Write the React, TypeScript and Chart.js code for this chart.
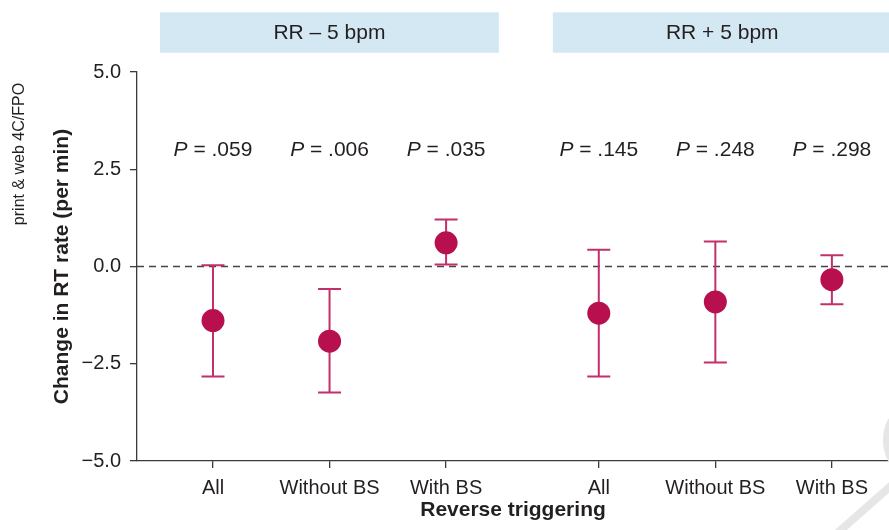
import { useEffect, useRef } from "react";
import { Chart, registerables } from "chart.js";

Chart.register(...registerables);

// ---- data ----
const categoryLabels = ["All", "Without BS", "With BS", "All", "Without BS", "With BS"];
const categoryPositions = [1, 2, 3, 4.31, 5.31, 6.31];
const meanChange = [-1.39, -1.92, 0.61, -1.2, -0.91, -0.34];
const ciUpper = [0.03, -0.58, 1.21, 0.43, 0.64, 0.29];
const ciLower = [-2.83, -3.24, 0.05, -2.83, -2.47, -0.97];
const pValues = [".059", ".006", ".035", ".145", ".248", ".298"];
const groupLabels = ["RR \u2013 5 bpm", "RR + 5 bpm"];
const groupSpans = [
  [0.545, 3.453],
  [3.916, 6.823],
];
const yTickValues = [-5, -2.5, 0, 2.5, 5];

const FONT = "'Liberation Sans', Arial, Helvetica, sans-serif";
const TEXT = "#231f20";
const AXIS = "#3a3a3a";
const DOT = "#b80f4f";
const BAR = "#c2306b";

const errorBarPlugin = {
  id: "errorBars",
  beforeDatasetsDraw(chart: any) {
    const { ctx, chartArea } = chart;
    const xs = chart.scales.x;
    const ys = chart.scales.y;
    ctx.save();
    // zero reference line
    ctx.strokeStyle = "#444";
    ctx.lineWidth = 1.5;
    ctx.setLineDash([7, 5]);
    const y0 = ys.getPixelForValue(0);
    ctx.beginPath();
    ctx.moveTo(chartArea.left, y0);
    ctx.lineTo(chartArea.right, y0);
    ctx.stroke();
    ctx.setLineDash([]);
    // error bars
    ctx.strokeStyle = BAR;
    ctx.lineWidth = 2;
    const cap = 11.5;
    categoryPositions.forEach((p, i) => {
      const px = xs.getPixelForValue(p);
      const yu = ys.getPixelForValue(ciUpper[i]);
      const yl = ys.getPixelForValue(ciLower[i]);
      ctx.beginPath();
      ctx.moveTo(px, yu);
      ctx.lineTo(px, yl);
      ctx.moveTo(px - cap, yu);
      ctx.lineTo(px + cap, yu);
      ctx.moveTo(px - cap, yl);
      ctx.lineTo(px + cap, yl);
      ctx.stroke();
    });
    ctx.restore();
  },
};

const annotationPlugin = {
  id: "annotations",
  afterDraw(chart: any) {
    const { ctx } = chart;
    const xs = chart.scales.x;
    const ys = chart.scales.y;
    ctx.save();
    // group header boxes
    groupSpans.forEach((span, i) => {
      const x1 = xs.getPixelForValue(span[0]);
      const x2 = xs.getPixelForValue(span[1]);
      const yTop = ys.getPixelForValue(6.535);
      const yBot = ys.getPixelForValue(5.496);
      ctx.fillStyle = "#d4e8f3";
      ctx.fillRect(x1, yTop, x2 - x1, yBot - yTop);
      ctx.fillStyle = TEXT;
      ctx.font = `21px ${FONT}`;
      ctx.textAlign = "center";
      ctx.textBaseline = "middle";
      ctx.fillText(groupLabels[i], (x1 + x2) / 2, (yTop + yBot) / 2 + 1);
    });
    // P values
    categoryPositions.forEach((p, i) => {
      const cx = xs.getPixelForValue(p);
      const cy = ys.getPixelForValue(3.0);
      ctx.textBaseline = "middle";
      ctx.textAlign = "left";
      ctx.font = `italic 21px ${FONT}`;
      const wP = ctx.measureText("P").width;
      ctx.font = `21px ${FONT}`;
      const rest = " = " + pValues[i];
      const wR = ctx.measureText(rest).width;
      const start = cx - (wP + wR) / 2;
      ctx.fillStyle = TEXT;
      ctx.font = `italic 21px ${FONT}`;
      ctx.fillText("P", start, cy);
      ctx.font = `21px ${FONT}`;
      ctx.fillText(rest, start + wP, cy);
    });
    // side note
    ctx.save();
    ctx.translate(20, 154);
    ctx.rotate(-Math.PI / 2);
    ctx.font = `16px ${FONT}`;
    ctx.textAlign = "center";
    ctx.textBaseline = "middle";
    ctx.fillStyle = TEXT;
    ctx.fillText("print & web 4C/FPO", 0, 0);
    ctx.restore();
    // faint watermark stroke (bottom-right corner)
    ctx.strokeStyle = "#e6e6e6";
    ctx.lineWidth = 8;
    ctx.beginPath();
    ctx.moveTo(893, 484);
    ctx.lineTo(834, 536);
    ctx.stroke();
    ctx.beginPath();
    ctx.arc(930, 440, 43, Math.PI * 0.82, Math.PI * 1.15);
    ctx.stroke();
    ctx.restore();
  },
};

export default function App() {
  const ref = useRef<HTMLCanvasElement | null>(null);
  useEffect(() => {
    if (!ref.current) return;
    const chart = new Chart(ref.current, {
      type: "scatter",
      data: {
        datasets: [
          {
            label: "Change in RT rate",
            data: categoryPositions.map((p, i) => ({ x: p, y: meanChange[i] })),
            backgroundColor: DOT,
            borderWidth: 0,
            pointRadius: 11.5,
            pointHoverRadius: 11.5,
          },
        ],
      },
      options: {
        responsive: false,
        animation: false,
        layout: { autoPadding: false, padding: { top: 72, left: 0, right: 0, bottom: 0 } },
        plugins: {
          legend: { display: false },
          tooltip: { enabled: false },
        },
        scales: {
          x: {
            type: "linear",
            min: 0.348,
            max: 6.8,
            afterBuildTicks: (scale: any) => {
              scale.ticks = categoryPositions.map((v) => ({ value: v }));
            },
            afterFit: (scale: any) => {
              scale.height = 69;
              scale.paddingLeft = 0;
              scale.paddingRight = 0;
            },
            ticks: {
              autoSkip: false,
              maxRotation: 0,
              padding: 8,
              color: TEXT,
              font: { size: 20, family: FONT },
              callback: (_v: any, idx: number) => categoryLabels[idx],
            },
            grid: {
              display: true,
              drawOnChartArea: false,
              drawTicks: true,
              tickLength: 7,
              color: AXIS,
              lineWidth: 1.3,
            },
            border: { display: true, color: AXIS, width: 1.3 },
            title: {
              display: true,
              text: "Reverse triggering",
              color: TEXT,
              font: { size: 21, weight: "bold", family: FONT },
              padding: { top: 0, bottom: 7 },
            },
          },
          y: {
            type: "linear",
            min: -5,
            max: 5,
            afterBuildTicks: (scale: any) => {
              scale.ticks = yTickValues.map((v) => ({ value: v }));
            },
            afterFit: (scale: any) => {
              scale.width = 137;
              scale.paddingTop = 0;
              scale.paddingBottom = 0;
            },
            ticks: {
              padding: 9,
              color: TEXT,
              font: { size: 20, family: FONT },
              callback: (v: any) => {
                const n = Number(v);
                return (n < 0 ? "\u2212" : "") + Math.abs(n).toFixed(1);
              },
            },
            grid: {
              display: true,
              drawOnChartArea: false,
              drawTicks: true,
              tickLength: 7,
              color: AXIS,
              lineWidth: 1.3,
            },
            border: { display: true, color: AXIS, width: 1.3 },
            title: {
              display: true,
              text: "Change in RT rate (per min)",
              color: TEXT,
              font: { size: 21, weight: "bold", family: FONT },
              padding: { top: 49.4, bottom: 0 },
            },
          },
        },
      },
      plugins: [errorBarPlugin, annotationPlugin],
    } as any);
    return () => chart.destroy();
  }, []);
  return (
    <div style={{ position: "absolute", left: 0, top: 0, width: 889, height: 530, background: "#fff" }}>
      <canvas ref={ref} width={889} height={530} style={{ display: "block" }} />
    </div>
  );
}
